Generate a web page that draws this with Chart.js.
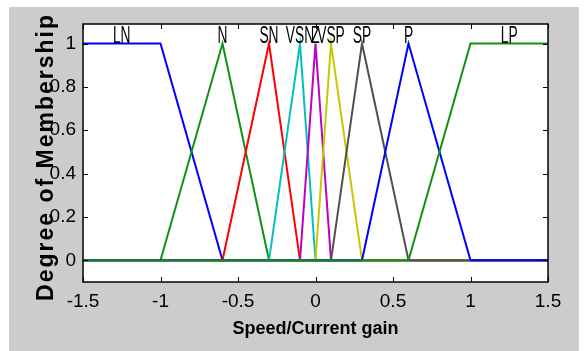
<!DOCTYPE html>
<html><head><meta charset="utf-8">
<script src="https://cdn.jsdelivr.net/npm/chart.js@4/dist/chart.umd.min.js"></script>
<style>html,body{margin:0;padding:0;background:#fff;}canvas{display:block;}</style>
</head><body>
<canvas id="c" width="586" height="351"></canvas>
<script>
// Membership function names and their label positions (x of peak / plateau centre)
const mfNames = ['LN','N','SN','VSN','Z','VSP','SP','P','LP'];
const mfLabelX = [-1.25,-0.6,-0.3,-0.1,0,0.1,0.3,0.6,1.25];
// Breakpoints of each membership function across the universe [-1.5, 1.5]
const lnX  = [-1.5,-1,-0.6,1.5];        const lnY  = [1,1,0,0];
const nX   = [-1.5,-1,-0.6,-0.3,1.5];   const nY   = [0,0,1,0,0];
const snX  = [-1.5,-0.6,-0.3,-0.1,1.5]; const snY  = [0,0,1,0,0];
const vsnX = [-1.5,-0.3,-0.1,0,1.5];    const vsnY = [0,0,1,0,0];
const zX   = [-1.5,-0.1,0,0.1,1.5];     const zY   = [0,0,1,0,0];
const vspX = [-1.5,0,0.1,0.3,1.5];      const vspY = [0,0,1,0,0];
const spX  = [-1.5,0.1,0.3,0.6,1.5];    const spY  = [0,0,1,0,0];
const pX   = [-1.5,0.3,0.6,1,1.5];      const pY   = [0,0,1,0,0];
const lpX  = [-1.5,0.6,1,1.5];          const lpY  = [0,0,1,1];
const xTicks = [-1.5,-1,-0.5,0,0.5,1,1.5];
const yTicks = [0,0.2,0.4,0.6,0.8,1];

const seriesX = [lnX,nX,snX,vsnX,zX,vspX,spX,pX,lpX];
const seriesY = [lnY,nY,snY,vsnY,zY,vspY,spY,pY,lpY];
const colors = ['#0000ff','#119011','#ff0000','#00c0c0','#c000c0','#c8c800','#505050','#0000ff','#119011'];

const datasets = mfNames.map((n,i)=>({
  label:n,
  data: seriesX[i].map((x,j)=>({x:x,y:seriesY[i][j]})),
  borderColor: colors[i], borderWidth:2, pointRadius:0, tension:0, fill:false,
  order: mfNames.length - i
}));

const tickFont = {family:"'Liberation Sans',Arial,sans-serif", size:19};

const bgPlugin = {
  id:'bg',
  beforeDraw(chart){
    const ctx = chart.ctx, a = chart.chartArea;
    ctx.save();
    ctx.fillStyle='#ffffff'; ctx.fillRect(0,0,chart.width,chart.height);
    ctx.fillStyle='#cccccc'; ctx.fillRect(9,7,570,344);
    ctx.fillStyle='#ffffff'; ctx.fillRect(a.left,a.top,a.right-a.left,a.bottom-a.top);
    ctx.restore();
  }
};

const framePlugin = {
  id:'frame',
  afterDraw(chart){
    const ctx = chart.ctx, a = chart.chartArea;
    const xs = chart.scales.x, ys = chart.scales.y;
    ctx.save();
    ctx.strokeStyle='#000'; ctx.lineWidth=1.5;
    ctx.strokeRect(a.left,a.top,a.right-a.left,a.bottom-a.top);
    ctx.lineWidth=1;
    const tl = 5;
    ctx.beginPath();
    xTicks.forEach(v=>{
      const px = Math.round(xs.getPixelForValue(v))+0.5;
      ctx.moveTo(px,a.bottom); ctx.lineTo(px,a.bottom-tl);
      ctx.moveTo(px,a.top); ctx.lineTo(px,a.top+tl);
    });
    yTicks.forEach(v=>{
      const py = Math.round(ys.getPixelForValue(v))+0.5;
      ctx.moveTo(a.left,py); ctx.lineTo(a.left+tl,py);
      ctx.moveTo(a.right,py); ctx.lineTo(a.right-tl,py);
    });
    ctx.stroke();
    // membership function labels
    ctx.fillStyle='#000';
    ctx.font = "23px 'Liberation Sans',Arial,sans-serif";
    ctx.textAlign='center'; ctx.textBaseline='alphabetic';
    const yb = ys.getPixelForValue(1) - 1;
    mfNames.forEach((n,i)=>{
      ctx.save();
      ctx.translate(xs.getPixelForValue(mfLabelX[i]), yb);
      ctx.scale(0.6,1);
      ctx.fillText(n,0,0);
      ctx.restore();
    });
    // y axis title
    ctx.save();
    ctx.beginPath(); ctx.rect(9,7,570,344); ctx.clip();
    ctx.translate(53,157); ctx.rotate(-Math.PI/2);
    ctx.font = "bold 23px 'Liberation Sans',Arial,sans-serif";
    try{ ctx.letterSpacing='2px'; }catch(e){}
    ctx.textAlign='center'; ctx.textBaseline='alphabetic';
    ctx.fillText('Degree of Membership',0,0);
    ctx.restore();
    ctx.restore();
  }
};

new Chart(document.getElementById('c'), {
  type:'line',
  data:{datasets:datasets},
  options:{
    responsive:false, animation:false,
    layout:{padding:{top:24,right:38,left:0,bottom:0}},
    plugins:{legend:{display:false}, tooltip:{enabled:false}},
    scales:{
      x:{
        type:'linear', min:-1.5, max:1.5,
        afterBuildTicks:s=>{ s.ticks = xTicks.map(v=>({value:v})); },
        afterFit:s=>{ s.height = 69; },
        grid:{display:false, drawTicks:false}, border:{display:false},
        ticks:{color:'#000', font:tickFont, padding:8, maxRotation:0, autoSkip:false, callback:v=>String(v)},
        title:{display:true, text:'Speed/Current gain', color:'#000',
          font:{family:"'Liberation Sans',Arial,sans-serif", size:18, weight:'bold'},
          padding:{top:0,bottom:11}}
      },
      y:{
        type:'linear', min:-0.1, max:1.09,
        afterBuildTicks:s=>{ s.ticks = yTicks.map(v=>({value:v})); },
        afterFit:s=>{ s.width = 83; },
        grid:{display:false, drawTicks:false}, border:{display:false},
        ticks:{color:'#000', font:tickFont, padding:7, autoSkip:false, callback:v=>String(v)}
      }
    }
  },
  plugins:[bgPlugin, framePlugin]
});
</script>
</body></html>
